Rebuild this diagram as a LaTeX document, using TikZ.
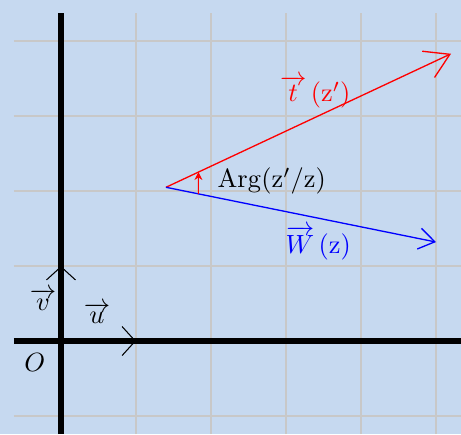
\documentclass[tikz,border=0pt]{standalone}
\usepackage{amsmath}
\definecolor{bgblue}{RGB}{198,217,240}
\definecolor{gridgray}{RGB}{200,200,200}
\usetikzlibrary{arrows.meta,calc}

\begin{document}
\begin{tikzpicture}[
  axis/.style={line width=2pt},
  unitvec/.style={-{Straight Barb[length=5pt,width=11pt]},line width=0.4pt},
  tvec/.style={red,line width=0.5pt,-{Straight Barb[length=9pt,width=11pt]}},
  wvec/.style={blue,line width=0.5pt,-{Straight Barb[length=6pt,width=8pt]}}]
  \useasboundingbox[fill=bgblue] (-0.813,-1.24) rectangle (5.333,4.547);
  \draw[gridgray,line width=0.5pt] (-0.627,-1.24) grid (5.333,4.373);
  \draw[axis] (-0.627,0) -- (5.333,0);
  \draw[axis] (0,-1.24) -- (0,4.373);
  % points
  \coordinate (O) at (0,0);
  \coordinate (i) at (1,0);
  \coordinate (j) at (0,1);
  \coordinate (P) at (1.4,2.05);
  \coordinate (T) at (5.2,3.83);
  \coordinate (W) at (5,1.32);
  \coordinate (a1) at ($(P)!0.12!(W)$);
  \coordinate (a2) at ($(P)!0.114!(T)$);
  % vectors
  \draw[unitvec] (O) -- (i);
  \draw[unitvec] (O) -- (j);
  \draw[tvec] (P) -- (T);
  \draw[wvec] (P) -- (W);
  \draw[red,-{Stealth[length=3pt,width=3pt]}] (a1) -- (a2);
  % labels
  \node (o) at (-0.35,-0.29) {$O$};
  \node (ulab) at (0.48,0.37) {$\overrightarrow{u}$};
  \node (vlab) at (-0.24,0.55) {$\overrightarrow{v}$};
  \node[red] (tlab) at (3.39,3.32) {$\overrightarrow{t}\,(\mathrm{z}')$};
  \node[blue] (wlab) at (3.43,1.31) {$\overrightarrow{W}\,(\mathrm{z})$};
  \node (arg) at (2.81,2.13) {$\mathrm{Arg}(\mathrm{z}'/\mathrm{z})$};
\end{tikzpicture}
\end{document}
